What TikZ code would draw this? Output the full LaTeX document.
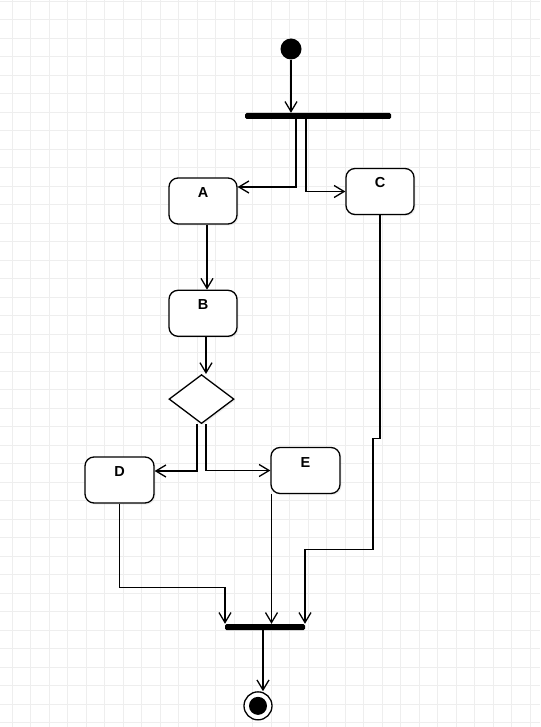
\documentclass[tikz,border=0pt]{standalone}
\usepackage{fontspec}
\setmainfont{Liberation Sans}
\usetikzlibrary{arrows.meta, positioning, shapes.geometric, shadows}
\tikzset{
    base/.style = {
        draw=black, line width=1.3pt, fill=white,
        font=\bfseries\fontsize{14.5}{16}\selectfont
    },
    % Activity shapes
    action/.style   = {base, rectangle, rounded corners=9pt, minimum width=68pt,
                       inner xsep=0pt, inner ysep=0pt, text height=19.5pt, text depth=26.5pt,
                       drop shadow={opacity=0.12, shadow xshift=1.5pt, shadow yshift=-1.5pt}},
    decision/.style = {base, diamond, minimum width=65pt, minimum height=49pt, inner sep=0pt,
                       drop shadow={opacity=0.12, shadow xshift=1.5pt, shadow yshift=-1.5pt}},
    bar/.style      = {rectangle, fill=black, rounded corners=1.5pt, minimum height=6pt, inner sep=0pt},
    startnode/.style= {circle, fill=black, minimum size=21pt, inner sep=0pt},
    endnode/.style  = {circle, draw=black, line width=1.3pt, fill=white, minimum size=28pt, inner sep=0pt,
                       path picture={\fill[black] (path picture bounding box.center) circle (9pt);}},
    % Edges and background
    flow/.style     = {line width=1.3pt, -{Straight Barb[length=10pt, width=12pt]}},
    gridline/.style = {gray!13, line width=0.8pt}
}
\begin{document}
\begin{tikzpicture}[x=1pt, y=-1pt]
    \fill[white] (0,0) rectangle (540,727);
    \useasboundingbox (0,0) rectangle (540,727);
    % Grid
    \foreach \x in {12,30.5,...,540} \draw[gridline] (\x,0) -- (\x,727);
    \foreach \y in {1,19.5,...,727} \draw[gridline] (0,\y) -- (540,\y);

    \node (init) [startnode] at (291,49) {};
    \node (fork) [bar, minimum width=146pt] at (318,116) {};

    \node (A) [action] at (203,201) {A};
    \node (C) [action] at (380,191.5) {C};
    \node (B) [action, below=65pt of A] {B};
    \node (dec) [decision, below=37pt of B, xshift=-1.5pt] {};

    \node (D) [action, minimum width=69pt] at (119.5,480) {D};
    \node (E) [action, minimum width=69pt] at (305.5,470.5) {E};

    \node (join) [bar, minimum width=80pt] at (265,627) {};
    \node (final) [endnode, below=61pt of join, xshift=-7pt] {};

    \draw [flow] (init) -- (init |- fork.north);
    \draw [flow] ([xshift=-22pt]fork.south) |- ([yshift=14pt]A.east);
    \draw [flow] ([xshift=-12pt]fork.south) |- (C.west);
    \draw [flow] ([xshift=4pt]A.south) -- ([xshift=4pt]B.north);
    \draw [flow] ([xshift=3pt]B.south) -- ([xshift=3pt]B.south |- dec.north);
    \draw [flow] ([xshift=-4.5pt]dec.south) |- ([yshift=9pt]D.east);
    \draw [flow] ([xshift=4.5pt]dec.south) |- (E.west);

    % Into the join bar
    \draw [flow] (D.south) -- ++(0,84) -| ([xshift=-40pt]join.north);
    \draw [flow] ([xshift=-34pt]E.south) -- ([xshift=-34pt]E.south |- join.north);
    \draw [flow] (C.south) -- ++(0,223) -- ++(-7,0) -- ++(0,111) -| ([xshift=40pt]join.north);
    \draw [flow] ([xshift=-2pt]join.south) -- ([xshift=5pt]final.north);
\end{tikzpicture}
\end{document}
